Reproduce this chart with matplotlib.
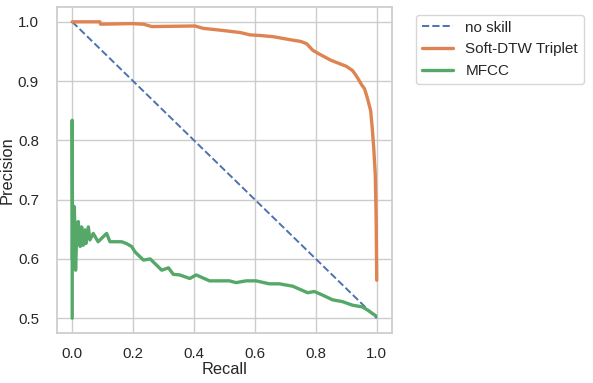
import matplotlib
matplotlib.use("Agg")
import matplotlib.pyplot as plt
import seaborn as sns

sns.set_theme(style="whitegrid")
plt.rcParams['font.family'] = ['Liberation Sans', 'DejaVu Sans']

noskill_recall = [0.0, 1.0]
noskill_precision = [1.0, 0.5]

triplet_recall = [0.0, 0.091, 0.093, 0.195, 0.234, 0.261, 0.403, 0.43, 0.485, 0.551,
                  0.584, 0.616, 0.659, 0.725, 0.75, 0.77, 0.79, 0.81, 0.85, 0.88,
                  0.90, 0.92, 0.93, 0.94, 0.95, 0.96, 0.97, 0.98, 0.985, 0.99,
                  0.995, 0.998, 1.0]
triplet_precision = [1.0, 1.0, 0.996, 0.997, 0.996, 0.992, 0.993, 0.989, 0.986, 0.982,
                     0.978, 0.977, 0.975, 0.969, 0.967, 0.963, 0.952, 0.946, 0.935, 0.929,
                     0.925, 0.918, 0.911, 0.903, 0.894, 0.887, 0.870, 0.850, 0.822, 0.788,
                     0.744, 0.670, 0.564]

mfcc_recall = [0.0, 0.0, 0.001, 0.002, 0.003, 0.004, 0.005, 0.007, 0.011, 0.016,
               0.020, 0.026, 0.031, 0.036, 0.042, 0.045, 0.053, 0.058, 0.069, 0.085,
               0.097, 0.113, 0.124, 0.140, 0.162, 0.178, 0.195, 0.206, 0.234, 0.256,
               0.294, 0.316, 0.332, 0.353, 0.386, 0.407, 0.451, 0.516, 0.538, 0.571,
               0.604, 0.647, 0.680, 0.724, 0.773, 0.795, 0.822, 0.855, 0.887, 0.920,
               0.953, 0.969, 0.997]
mfcc_precision = [0.5, 0.834, 0.60, 0.69, 0.585, 0.67, 0.60, 0.688, 0.581, 0.660,
                  0.663, 0.621, 0.654, 0.623, 0.649, 0.626, 0.654, 0.632, 0.643, 0.629,
                  0.635, 0.643, 0.629, 0.629, 0.629, 0.626, 0.621, 0.612, 0.598, 0.600,
                  0.581, 0.585, 0.574, 0.573, 0.567, 0.573, 0.563, 0.563, 0.560, 0.563,
                  0.563, 0.558, 0.558, 0.554, 0.543, 0.545, 0.539, 0.531, 0.528, 0.522,
                  0.519, 0.514, 0.504]

fig = plt.figure(figsize=(5.93, 3.83), dpi=100)
ax = fig.add_axes([0.0961, 0.1305, 0.5649, 0.8512])

pal = sns.color_palette("deep")
ax.plot(noskill_recall, noskill_precision, linestyle='--', color=pal[0], lw=1.4, label='no skill')
ax.plot(triplet_recall, triplet_precision, color=pal[1], lw=2.4, label='Soft-DTW Triplet')
ax.plot(mfcc_recall, mfcc_precision, color=pal[2], lw=2.4, label='MFCC')

ax.set_xlabel('Recall', fontsize=11.8, labelpad=1)
ax.set_ylabel('Precision', fontsize=11.8, labelpad=2.5)
ax.tick_params(axis='x', labelsize=10.8, pad=4)
ax.tick_params(axis='y', labelsize=10.8, pad=7)
ax.set_xticks([0.0, 0.2, 0.4, 0.6, 0.8, 1.0])
ax.set_yticks([0.5, 0.6, 0.7, 0.8, 0.9, 1.0])
ax.legend(loc='upper left', bbox_to_anchor=(1.05, 1.0), fontsize=11, frameon=True)

fig.savefig('out.png', dpi=100)
